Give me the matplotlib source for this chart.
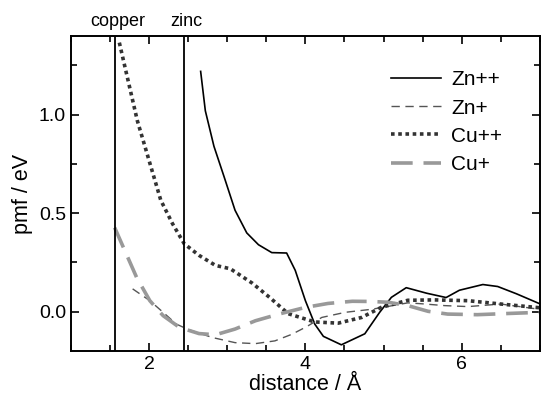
import matplotlib
matplotlib.use("Agg")
import matplotlib.pyplot as plt
from matplotlib.ticker import MultipleLocator

plt.rcParams['font.family'] = ['Liberation Sans', 'DejaVu Sans']

zn2_x = [2.66, 2.72, 2.83, 2.96, 3.10, 3.25, 3.40, 3.57, 3.76, 3.87, 4.00, 4.12, 4.23,
         4.46, 4.76, 4.95, 5.10, 5.29, 5.55, 5.80, 5.97, 6.27, 6.46, 6.70, 7.0]
zn2_y = [1.22, 1.02, 0.84, 0.685, 0.515, 0.40, 0.34, 0.30, 0.298, 0.21, 0.056, -0.063, -0.125,
         -0.168, -0.112, -0.003, 0.073, 0.122, 0.094, 0.072, 0.109, 0.138, 0.128, 0.091, 0.04]

zn1_x = [1.79, 2.01, 2.18, 2.35, 2.50, 2.81, 3.10, 3.36, 3.61, 3.83, 4.02, 4.21, 4.51,
         4.84, 5.06, 5.31, 5.50, 5.78, 6.08, 6.50, 7.0]
zn1_y = [0.116, 0.056, -0.003, -0.063, -0.090, -0.131, -0.157, -0.162, -0.148, -0.114,
         -0.075, -0.029, -0.003, 0.012, 0.027, 0.045, 0.040, 0.031, 0.026, 0.039, 0.012]

cu2_x = [1.62, 1.85, 2.15, 2.30, 2.45, 2.64, 2.85, 3.04, 3.32, 3.55, 3.78, 4.12, 4.42,
         4.72, 4.97, 5.31, 5.65, 6.08, 6.50, 7.0]
cu2_y = [1.366, 0.97, 0.566, 0.447, 0.345, 0.286, 0.235, 0.218, 0.145, 0.07, -0.01,
         -0.052, -0.058, -0.029, 0.022, 0.058, 0.060, 0.056, 0.039, 0.02]

cu1_x = [1.56, 1.69, 1.84, 2.01, 2.18, 2.39, 2.64, 2.85, 3.10, 3.36, 3.66, 4.00, 4.29,
         4.60, 4.84, 5.06, 5.31, 5.57, 5.82, 6.20, 6.59, 7.0]
cu1_y = [0.427, 0.31, 0.175, 0.056, -0.020, -0.080, -0.111, -0.117, -0.088, -0.046,
         -0.012, 0.022, 0.042, 0.053, 0.052, 0.048, 0.031, 0.002, -0.012, -0.015, -0.009, -0.003]

site_names = ["copper", "zinc"]
site_pos = [1.57, 2.45]

fig = plt.figure(figsize=(5.41, 3.99), dpi=100)
ax = fig.add_axes([0.131, 0.120, 0.867, 0.790])

ax.plot(zn2_x, zn2_y, color='black', lw=1.2, label='Zn++')
ax.plot(zn1_x, zn1_y, color='#555555', lw=1.0, dashes=(6, 4), label='Zn+')
ax.plot(cu2_x, cu2_y, color='#333333', lw=2.6, linestyle=(0, (1, 1)), label='Cu++')
ax.plot(cu1_x, cu1_y, color='#999999', lw=2.6, dashes=(6, 3), label='Cu+')

for name, pos in zip(site_names, site_pos):
    ax.axvline(pos, color='black', lw=1.3)
    ax.text(pos + 0.03, 1.0 + 0.018, name, transform=ax.get_xaxis_transform(),
            ha='center', va='bottom', fontsize=13)

ax.set_xlim(1.0, 7.0)
ax.set_ylim(-0.2, 1.4)
ax.xaxis.set_major_locator(MultipleLocator(2))
ax.xaxis.set_minor_locator(MultipleLocator(0.5))
ax.yaxis.set_major_locator(MultipleLocator(0.5))
ax.yaxis.set_minor_locator(MultipleLocator(0.25))
ax.tick_params(which='both', direction='in', top=True, right=True, labelsize=14, width=1.2)
ax.tick_params(which='major', length=6)
ax.tick_params(which='minor', length=4)
for s in ax.spines.values():
    s.set_linewidth(1.4)

ax.set_xlabel('distance / Å', fontsize=15.5, labelpad=1)
ax.set_ylabel('pmf / eV', fontsize=15.5, labelpad=4)

ax.legend(loc='upper right', bbox_to_anchor=(0.96, 0.95), frameon=False, fontsize=15,
          handlelength=2.4, handletextpad=0.5, labelspacing=0.44)

fig.savefig('out.png', dpi=100)
